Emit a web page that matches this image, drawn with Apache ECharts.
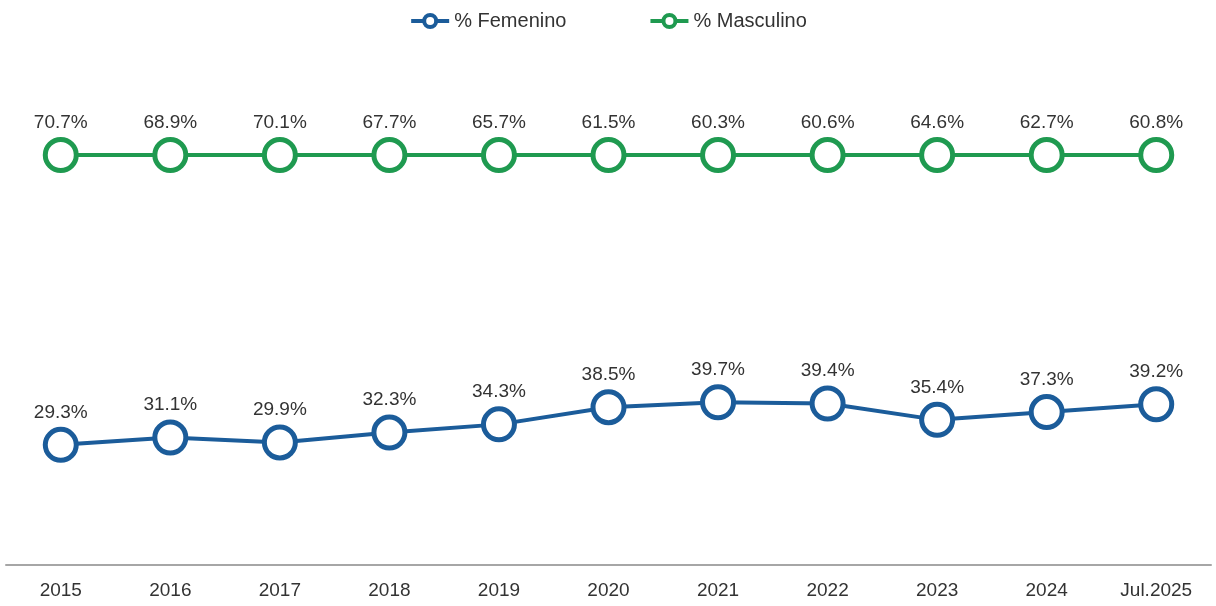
<!DOCTYPE html>
<html>
<head>
<meta charset="utf-8">
<script src="https://cdn.jsdelivr.net/npm/echarts@6/dist/echarts.min.js"></script>
<style>
  html, body { margin: 0; padding: 0; background: #fff; }
  #chart { width: 1216px; height: 606px; }
</style>
</head>
<body>
<div id="chart"></div>
<script>
// Share of women and men per year (percent)
const categories = ['2015', '2016', '2017', '2018', '2019', '2020', '2021', '2022', '2023', '2024', 'Jul.2025'];
const femenino = [29.3, 31.1, 29.9, 32.3, 34.3, 38.5, 39.7, 39.4, 35.4, 37.3, 39.2];
const masculino = [70.7, 68.9, 70.1, 67.7, 65.7, 61.5, 60.3, 60.6, 64.6, 62.7, 60.8];

const blue = '#1b5c9a';
const green = '#1f9a50';
const font = 'Liberation Sans, Arial, sans-serif';

function pct(p) { return p.value.toFixed(1) + '%'; }

function symbolFill(inner) {
  return {
    type: 'radial', x: 0.5, y: 0.5, r: 0.5,
    colorStops: [
      { offset: 0, color: '#ffffff' },
      { offset: 0.7, color: '#ffffff' },
      { offset: 1, color: inner }
    ]
  };
}

function valueLabel() {
  return {
    show: true,
    position: 'top',
    distance: 5,
    formatter: pct,
    fontFamily: font,
    fontSize: 19,
    color: '#333'
  };
}

const chart = echarts.init(document.getElementById('chart'));
chart.setOption({
  animation: false,
  legend: {
    top: 6,
    left: 'center',
    itemGap: 82,
    itemWidth: 38,
    itemHeight: 15,
    lineStyle: { width: 4 },
    itemStyle: { borderWidth: 4 },
    textStyle: { fontFamily: font, fontSize: 20, color: '#333' },
    data: ['% Femenino', '% Masculino']
  },
  grid: { left: 6, right: 5, top: 73, bottom: 41, containLabel: false },
  xAxis: {
    type: 'category',
    data: categories,
    boundaryGap: true,
    axisLine: { lineStyle: { color: '#a6a6a6', width: 2 } },
    axisTick: { show: false },
    axisLabel: { margin: 16, fontFamily: font, fontSize: 19, color: '#333' }
  },
  yAxis: {
    type: 'value',
    min: 0,
    max: 120,
    show: false,
    splitLine: { show: false }
  },
  series: [
    {
      name: '% Femenino',
      type: 'line',
      stack: 'total',
      data: femenino,
      symbol: 'circle',
      symbolSize: 31,
      lineStyle: { color: blue, width: 4 },
      itemStyle: { color: symbolFill('#cfe3f5'), borderColor: blue, borderWidth: 5 },
      label: valueLabel()
    },
    {
      name: '% Masculino',
      type: 'line',
      stack: 'total',
      data: masculino,
      symbol: 'circle',
      symbolSize: 31,
      lineStyle: { color: green, width: 4 },
      itemStyle: { color: symbolFill('#d3f1de'), borderColor: green, borderWidth: 5 },
      label: valueLabel()
    }
  ]
});
</script>
</body>
</html>
